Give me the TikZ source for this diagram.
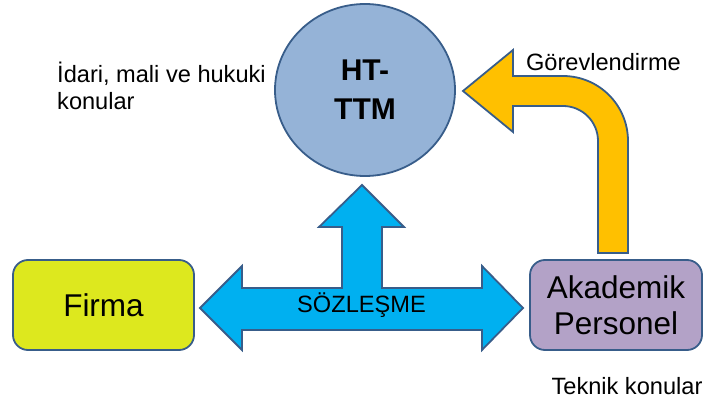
\documentclass[tikz,border=0pt]{standalone}
\usepackage{fontspec}
\setmainfont{Liberation Sans}
\usetikzlibrary{shapes.geometric}
\definecolor{outl}{RGB}{56,93,138}
\definecolor{circfill}{RGB}{149,179,215}
\definecolor{crossblue}{RGB}{0,176,240}
\definecolor{arrowyellow}{RGB}{255,192,0}
\definecolor{firmafill}{RGB}{221,232,30}
\definecolor{akafill}{RGB}{179,162,199}
\tikzset{
  shapeline/.style={draw=outl, line width=1.8pt, line join=miter},
  boxnode/.style={shapeline, rounded corners=15pt, minimum height=90pt, inner sep=0pt, align=center, font=\fontsize{31.5}{36.5}\selectfont},
  plaintext/.style={inner sep=0pt, font=\fontsize{23.6}{27.5}\selectfont}
}
\begin{document}
\begin{tikzpicture}[x=1pt,y=1pt]
\useasboundingbox (0,0) rectangle (705,-403);
% HT-TTM ellipse
\node[ellipse, shapeline, fill=circfill, minimum width=180pt, minimum height=172pt, inner sep=0pt,
  align=center, font=\bfseries\fontsize{30}{39}\selectfont] (httm) at (365,-90) {HT-\\TTM};
% boxes
\node[boxnode, fill=firmafill, minimum width=181pt] (firma) at (103.5,-305) {Firma};
\node[boxnode, fill=akafill, minimum width=172pt] (aka) at (616,-305) {Akademik\\Personel};
% cross arrow
\path[shapeline, fill=crossblue]
  (200,-308) -- (242,-266) -- (242,-288) -- (342,-288) -- (342,-227) -- (319,-227)
  -- (362,-185) -- (404,-227) -- (382,-227) -- (382,-288) -- (482,-288) -- (482,-266)
  -- (523,-308) -- (482,-350) -- (482,-330) -- (242,-330) -- (242,-350) -- cycle;
\node[plaintext] (soz) at (361.5,-305) {SÖZLEŞME};
% curved yellow arrow
\path[shapeline, fill=arrowyellow]
  (463,-91) -- (513,-50) -- (513,-76) -- (563,-76) arc (90:0:65) -- (628,-253)
  -- (598,-253) -- (598,-141) arc (0:90:35) -- (513,-106) -- (513,-132) -- cycle;
% labels
\node[plaintext] (gorev) at (603.5,-62) {Görevlendirme};
\node[plaintext] (teknik) at (627,-386) {Teknik konular};
\node[plaintext, anchor=west, align=left] (idari) at (57,-86) {İdari, mali ve hukuki\\konular};
\end{tikzpicture}
\end{document}
